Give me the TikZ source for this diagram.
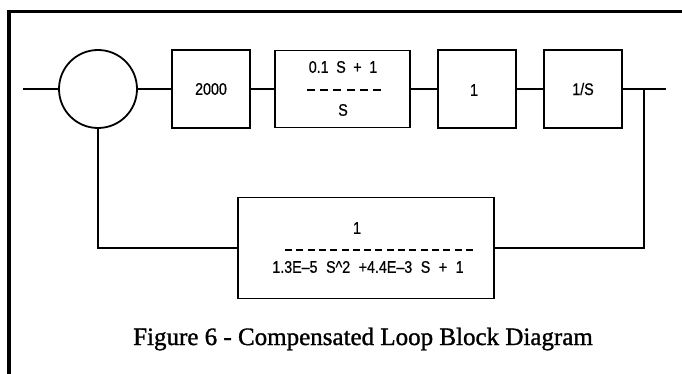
\documentclass[tikz,border=0pt]{standalone}
\usepackage{fontspec}
\setmainfont{Liberation Serif}
\setsansfont{Liberation Sans}
\newfontfamily\capfont{Liberation Serif}[FakeBold=1.2]
\newfontfamily\blkfont{Liberation Sans}[FakeBold=0.8]
\begin{document}
\begin{tikzpicture}[x=1pt,y=-1pt,
  wire/.style={line width=1.8pt},
  blk/.style={draw, line width=1.8pt, inner sep=0pt},
  lbl/.style={inner sep=0pt, font=\blkfont\fontsize{15}{17}\selectfont},
  frac/.style={line width=1.4pt, dash pattern=on 8pt off 5.2pt},
  fracl/.style={line width=1.4pt, dash pattern=on 7pt off 4.3pt},
  frame/.style={line width=3.8pt}]
\useasboundingbox (0,0) rectangle (682,374);
% frame
\draw[frame] (9,374) -- (9,11.5) -- (682,11.5);
% blocks
\node[blk, circle, minimum size=78pt] (sum) at (98,89) {};
\node[blk, minimum width=78pt, minimum height=78pt] (k) at (211,89) {};
\node[lbl] (kt) at (211,89) {\scalebox{0.95}[1.12]{2000}};
\node[blk, minimum width=135pt, minimum height=77pt] (c) at (342.5,89) {};
\node[lbl] (cn) at (343,67) {\scalebox{0.95}[1.12]{0.1\hspace{8pt}S\hspace{8pt}+\hspace{8pt}1}};
\node[lbl] (cd) at (343,110) {\scalebox{0.95}[1.12]{S}};
\draw[frac] (307,90) -- (381,90);
\node[blk, minimum width=78pt, minimum height=78pt] (g) at (477,89) {};
\node[lbl] (gt) at (474,90) {\scalebox{0.95}[1.12]{1}};
\node[blk, minimum width=78pt, minimum height=78pt] (i) at (583,89) {};
\node[lbl] (it) at (583,89) {\scalebox{0.95}[1.12]{1/S}};
\node[blk, minimum width=256pt, minimum height=101pt] (h) at (366,248) {};
\node[lbl] (hn) at (357,228) {\scalebox{0.95}[1.12]{1}};
\node[lbl] (hd) at (368,267) {\scalebox{0.95}[1.12]{1.3E–5\hspace{9pt}S\textasciicircum 2\hspace{9pt}+4.4E–3\hspace{9pt}S\hspace{9pt}+\hspace{9pt}1}};
\draw[fracl] (285,250) -- (473,250);
% connectors
\coordinate (in) at (23,89);
\coordinate (out) at (666,89);
\coordinate (br) at (644,89);
\coordinate (rc) at (644,248);
\coordinate (lc) at (98,248);
\draw[wire] (in) -- (sum.west);
\draw[wire] (sum.east) -- (k.west);
\draw[wire] (k.east) -- (c.west);
\draw[wire] (c.east) -- (g.west);
\draw[wire] (g.east) -- (i.west);
\draw[wire] (i.east) -- (out);
\draw[wire] (br) -- (rc) -- (h.east);
\draw[wire] (h.west) -- (lc) -- (sum.south);
% caption
\node[anchor=base, inner sep=0pt, font=\capfont\fontsize{25}{28}\selectfont] (cap) at (363,345) {Figure 6 - Compensated Loop Block Diagram};
\end{tikzpicture}
\end{document}
